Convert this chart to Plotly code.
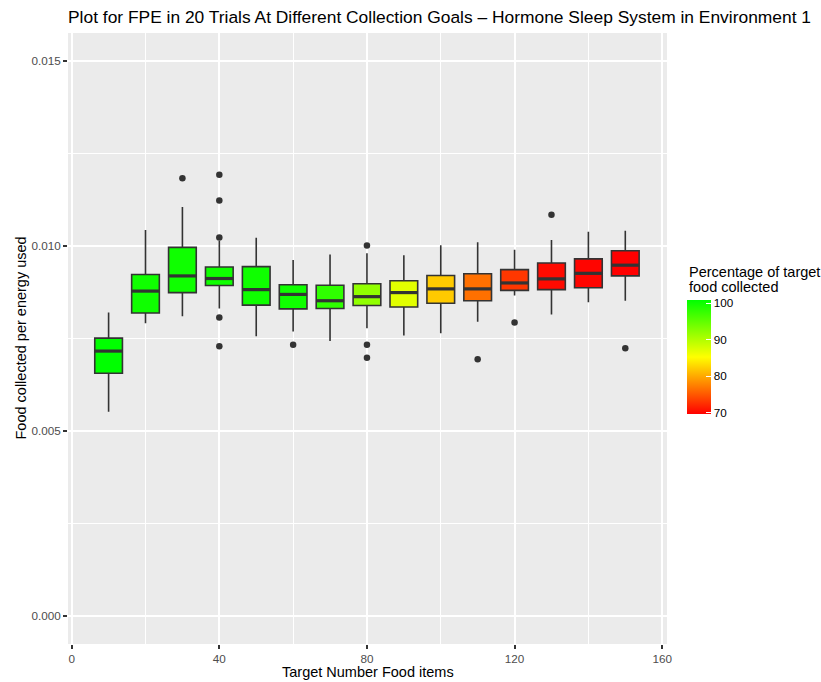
import plotly.graph_objects as go
from plotly.colors import sample_colorscale

# ---- data ----
targets = [10, 20, 30, 40, 50, 60, 70, 80, 90, 100, 110, 120, 130, 140, 150]
q1 = [0.00656, 0.00819, 0.00874, 0.00893, 0.00840, 0.00830, 0.00831, 0.00839,
      0.00835, 0.00845, 0.00852, 0.00880, 0.00882, 0.00887, 0.00919]
median = [0.00716, 0.00878, 0.00919, 0.00912, 0.00882, 0.00869, 0.00852, 0.00863,
          0.00874, 0.00884, 0.00884, 0.00900, 0.00911, 0.00926, 0.00948]
q3 = [0.00751, 0.00923, 0.00996, 0.00943, 0.00944, 0.00895, 0.00894, 0.00898,
      0.00906, 0.00920, 0.00925, 0.00936, 0.00954, 0.00965, 0.00987]
lower = [0.00552, 0.00791, 0.00810, 0.00831, 0.00756, 0.00769, 0.00743, 0.00778,
         0.00758, 0.00764, 0.00795, 0.00866, 0.00815, 0.00848, 0.00852]
upper = [0.00820, 0.01043, 0.01105, 0.01014, 0.01022, 0.00962, 0.00977, 0.00980,
         0.00975, 0.01002, 0.01010, 0.00990, 0.01016, 0.01038, 0.01041]
pct_collected = [100.9, 100, 100, 100, 100, 100, 98, 92, 87, 82, 76.5, 73, 70.2, 69.9, 69.6]

outlier_x = [30, 40, 40, 40, 40, 40, 60, 80, 80, 80, 110, 120, 130, 150]
outlier_y = [0.01183, 0.01192, 0.01123, 0.01023, 0.00807, 0.00729, 0.00733,
             0.01001, 0.00733, 0.00698, 0.00694, 0.00793, 0.01084, 0.00724]

x_ticks = [0, 40, 80, 120, 160]
y_ticks = [0.000, 0.005, 0.010, 0.015]
cbar_ticks = [70, 80, 90, 100]

# ---- styling ----
FONT = "Liberation Sans, Arial, Helvetica, sans-serif"
colorscale = [[0.0, "#FF0000"], [0.5, "#FFFF00"], [1.0, "#00FF00"]]
cmin, cmax = min(pct_collected), max(pct_collected)
BOX_W = 7.5
LINE = "#333333"

fig = go.Figure()

for i, t in enumerate(targets):
    frac = (pct_collected[i] - cmin) / (cmax - cmin)
    col = sample_colorscale(colorscale, [frac])[0]
    fig.add_trace(go.Box(
        x=[t], q1=[q1[i]], median=[median[i]], q3=[q3[i]],
        lowerfence=[lower[i]], upperfence=[upper[i]],
        width=BOX_W, whiskerwidth=0, fillcolor=col,
        line=dict(color=LINE, width=1.6), boxpoints=False,
        showlegend=False, hoverinfo="skip"))

# thicker median bars (ggplot style)
mx, my = [], []
for i, t in enumerate(targets):
    mx += [t - BOX_W / 2, t + BOX_W / 2, None]
    my += [median[i], median[i], None]
fig.add_trace(go.Scatter(x=mx, y=my, mode="lines",
                         line=dict(color=LINE, width=3.2),
                         showlegend=False, hoverinfo="skip"))

# outliers
fig.add_trace(go.Scatter(x=outlier_x, y=outlier_y, mode="markers",
                         marker=dict(color=LINE, size=6.5),
                         showlegend=False, hoverinfo="skip"))

# colour bar
fig.add_trace(go.Scatter(
    x=[None] * len(targets), y=[None] * len(targets), mode="markers",
    showlegend=False, hoverinfo="skip",
    marker=dict(color=pct_collected, colorscale=colorscale, cmin=cmin, cmax=cmax,
                showscale=True,
                colorbar=dict(
                    x=(687 - 68) / 599, xanchor="left", xpad=0,
                    y=(644 - 357) / 611, yanchor="middle", ypad=0,
                    len=114, lenmode="pixels", thickness=24,
                    outlinewidth=0,
                    tickvals=cbar_ticks, ticks="inside", ticklen=5,
                    tickcolor="white", tickwidth=1,
                    tickfont=dict(family=FONT, size=11.7, color="#000000")))))

W, H = 821, 682
ML, MR, MT, MB = 68, 154, 33, 38

fig.update_layout(
    width=W, height=H,
    margin=dict(l=ML, r=MR, t=MT, b=MB, autoexpand=False),
    paper_bgcolor="white", plot_bgcolor="#EBEBEB",
    boxmode="overlay",
    font=dict(family=FONT, color="#000000"),
    title=dict(text="Plot for FPE in 20 Trials At Different Collection Goals \u2013 Hormone Sleep System in Environment 1",
               x=ML / W, xanchor="left", xref="container",
               y=1 - 17 / H, yanchor="middle", yref="container",
               font=dict(family=FONT, size=17.4, color="#000000")),
    xaxis=dict(range=[-1.0, 161.3], tickvals=x_ticks, ticks="outside", ticklen=4,
               tickwidth=1.5, tickcolor=LINE, showgrid=True, gridcolor="white",
               gridwidth=1.8, zeroline=False, showline=False,
               tickfont=dict(family=FONT, size=11.7, color="#4D4D4D"),
               minor=dict(dtick=20, tick0=0, showgrid=True, gridcolor="white",
                          gridwidth=0.9, ticks="")),
    yaxis=dict(range=[-0.00075, 0.01575], tickvals=y_ticks, tickformat=".3f",
               ticks="outside", ticklen=4, tickwidth=1.5, tickcolor=LINE,
               showgrid=True, gridcolor="white", gridwidth=1.8, zeroline=False,
               showline=False,
               tickfont=dict(family=FONT, size=11.7, color="#4D4D4D"),
               minor=dict(dtick=0.0025, tick0=0, showgrid=True, gridcolor="white",
                          gridwidth=0.9, ticks="")),
    annotations=[
        dict(text="Target Number Food items", xref="paper", yref="paper",
             x=0.5, y=(644 - 672) / 611, xanchor="center", yanchor="middle",
             showarrow=False, font=dict(family=FONT, size=14.5, color="#000000")),
        dict(text="Food collected per energy used", xref="paper", yref="paper",
             x=(20 - 68) / 599, y=0.5, xanchor="center", yanchor="middle",
             textangle=-90, showarrow=False,
             font=dict(family=FONT, size=14.5, color="#000000")),
        dict(text="Percentage of target", xref="paper", yref="paper",
             x=(687 - 68) / 599, y=(644 - 271.5) / 611, xanchor="left",
             yanchor="middle", showarrow=False,
             font=dict(family=FONT, size=14.5, color="#000000")),
        dict(text="food collected", xref="paper", yref="paper",
             x=(687 - 68) / 599, y=(644 - 287) / 611, xanchor="left",
             yanchor="middle", showarrow=False,
             font=dict(family=FONT, size=14.5, color="#000000")),
    ],
)

fig.write_html("out.html", config={"displayModeBar": False},
               post_script="document.body.style.margin='0';document.body.style.padding='0';")
